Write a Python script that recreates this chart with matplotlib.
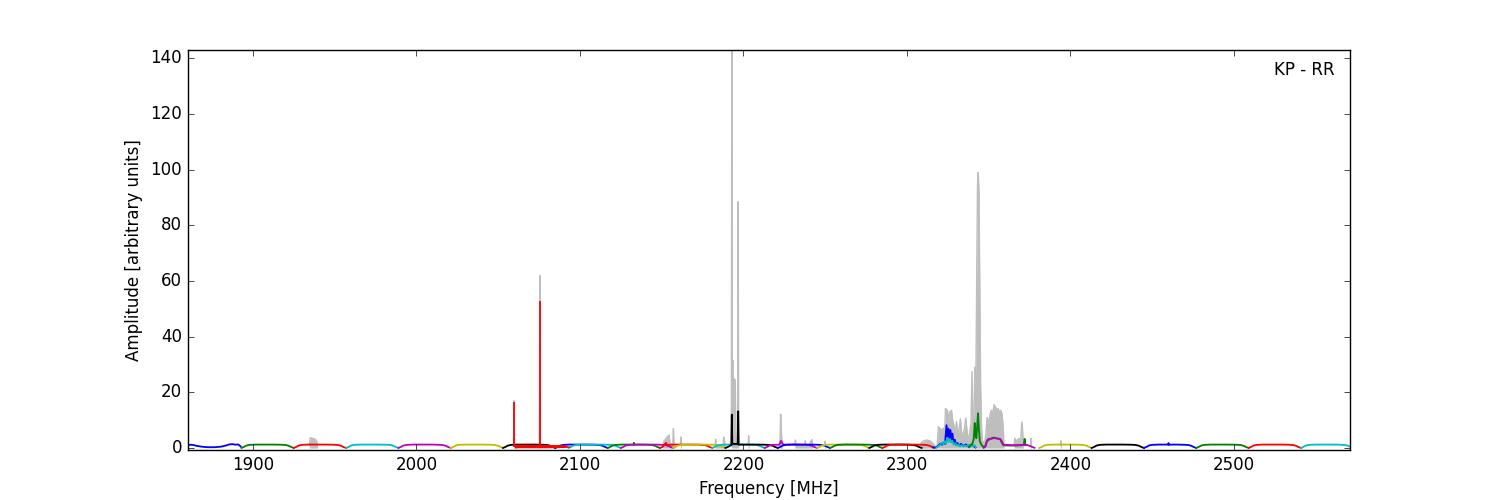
import numpy as np
import matplotlib
matplotlib.use("Agg")
import matplotlib.pyplot as plt

plt.style.use("classic")

# bandpass shape shared by the 32 MHz IFs (offset from lower edge [MHz], amplitude)
prof_off = [0, 1.5, 3, 5, 9, 14, 19, 24, 27, 29, 30.5, 32]
prof_amp = [0.05, 0.4, 0.9, 1.15, 1.25, 1.25, 1.25, 1.2, 1.1, 0.8, 0.35, 0.05]

# IF lower edges [MHz]
band_start = [1893, 1925, 1957, 1989, 2021, 2053, 2085, 2093, 2117, 2125, 2149,
              2157, 2181, 2189, 2213, 2221, 2245, 2253, 2277, 2285, 2381, 2413,
              2445, 2477, 2509, 2541]
band_color = ['g', 'r', 'c', 'm', 'y', 'k', 'b', 'c', 'g', 'm', 'r',
              'y', 'c', 'k', 'm', 'b', 'y', 'g', 'k', 'r', 'y', 'k',
              'b', 'g', 'r', 'c']

# narrow features inside some IFs (index into band_start)
feat_band = [8, 10, 13, 14, 22]
feat_freq = [[2132.8, 2133.0, 2133.2],
             [2151.5, 2152.6, 2153.6],
             [2192.6, 2192.9, 2193.2, 2196.5, 2196.8, 2197.1],
             [2222.0, 2223.0, 2223.5, 2224.5],
             [2459.8, 2460.0, 2460.2]]
feat_amp = [[1.2, 1.9, 1.2],
            [1.0, 1.9, 0.9],
            [1.0, 12.0, 1.5, 1.5, 13.2, 1.2],
            [1.2, 2.6, 2.0, 1.2],
            [1.2, 1.8, 1.2]]

# IFs with their own shape
cust_color = ['b', 'b', 'c', 'g', 'g', 'm']
cust_freq = [
    [1860.5, 1861.5, 1863.5, 1865.5, 1868.5, 1872.5, 1876.5, 1880.5, 1883.5, 1885.5,
     1887.5, 1889.5, 1891, 1892.5],
    [2316, 2318, 2319.5, 2320.5, 2321.5, 2322.5, 2323.3, 2324.2, 2324.8, 2325.4, 2326,
     2326.6, 2327.2, 2327.8, 2328.5, 2329.3, 2330, 2331, 2332, 2333, 2334.5, 2336,
     2337.5, 2339, 2340.5, 2342],
    [2318, 2319.5, 2320.5, 2321.5, 2322.3, 2323.2, 2324, 2324.8, 2325.5, 2326.3, 2327,
     2327.8, 2328.6, 2329.5, 2330.5, 2331.5, 2332.5, 2333.5, 2334.5, 2335.5, 2336.5,
     2337.5, 2338.5, 2339.5, 2340.5, 2341.5, 2342],
    [2338, 2339, 2340, 2340.8, 2341.5, 2342, 2342.5, 2343, 2343.5, 2344, 2344.6,
     2345.5, 2347],
    [2347, 2348, 2349, 2351, 2353, 2355, 2357, 2358, 2359, 2362, 2366, 2370, 2371.5,
     2372, 2372.5],
    [2347, 2348, 2349, 2350, 2352, 2353.5, 2355, 2357, 2358, 2359, 2362, 2366, 2370,
     2373, 2375, 2377, 2378],
]
cust_amp = [
    [1.0, 1.2, 1.1, 0.8, 0.5, 0.3, 0.3, 0.5, 0.9, 1.3, 1.4, 1.2, 1.3, 0.6],
    [0.2, 0.3, 1.0, 1.6, 1.2, 2.0, 1.5, 8.2, 4.0, 7.0, 3.5, 6.5, 3.0, 5.2, 2.0, 3.0,
     1.2, 1.8, 0.9, 1.5, 0.8, 1.3, 0.7, 1.1, 0.8, 0.2],
    [0.1, 0.8, 1.2, 2.0, 1.4, 2.5, 1.5, 3.6, 2.2, 3.2, 2.0, 2.6, 1.2, 1.8, 0.9, 1.3,
     0.6, 1.1, 0.5, 1.0, 0.6, 1.2, 0.5, 1.5, 0.7, 1.0, 0.3],
    [0.3, 1.0, 1.5, 3.0, 9.0, 5.0, 3.5, 8.0, 12.5, 7.0, 2.5, 1.2, 0.3],
    [0.3, 0.8, 2.5, 3.3, 3.8, 3.4, 3.2, 2.0, 1.0, 0.9, 0.9, 1.0, 1.2, 3.3, 1.0],
    [0.1, 0.5, 2.8, 3.3, 3.4, 3.6, 3.5, 3.3, 2.5, 1.2, 1.1, 1.0, 1.1, 1.2, 0.8, 0.3, 0.1],
]

# high resolution IF around 2060-2094 MHz: noise envelope and spikes
hires_freq = [2060, 2062, 2070, 2080, 2090, 2094]
hires_lo = [0.0, 0.1, 0.1, 0.1, 0.2, 0.3]
hires_hi = [1.2, 1.4, 1.3, 1.3, 1.2, 0.6]
hires_spike_freq = [2059.7, 2075.5]
hires_spike_amp = [16.5, 53.0]

# total power spectrum (grey), RFI features above the bandpass
gray_freq = [
    [1934.5, 1935, 1936, 1938, 1939, 1939.5],
    [2059.4, 2059.7, 2060.0],
    [2075.2, 2075.5, 2075.8],
    [2150.5, 2151.5, 2153, 2154.5, 2155.2, 2156.8, 2157.2, 2157.6],
    [2161.5, 2161.8, 2162.1],
    [2182.7, 2183.0, 2183.3, 2187.6, 2187.9, 2188.4, 2188.8],
    [2192.6, 2192.9, 2193.2, 2193.5, 2193.8, 2194.2, 2195.0, 2195.5, 2196.5, 2196.8, 2197.1],
    [2202.9, 2203.2, 2203.5],
    [2222.3, 2222.8, 2223.2, 2223.7],
    [2231.5, 2231.8, 2232.1, 2237.6, 2237.9, 2238.2, 2240.7, 2241, 2241.5, 2242, 2242.3],
    [2249.7, 2250, 2250.3],
    [2308, 2309.5, 2312, 2314.5, 2317],
    [2318.5, 2319.2, 2320.5, 2321.5, 2322.2, 2323, 2323.6, 2324.8, 2325.6, 2326.3, 2327.3,
     2328, 2328.9, 2329.5, 2330.3, 2331, 2331.5, 2332.7, 2333.5, 2334.3, 2335.2, 2336,
     2336.8, 2337.4, 2338.3, 2339.2, 2339.8, 2340.3, 2341, 2341.6, 2342.2, 2342.8, 2343.2,
     2343.6, 2344.1, 2344.6, 2345.1, 2345.6, 2346.2, 2347.5, 2348.3, 2349, 2350, 2350.8,
     2351.6, 2352.5, 2353.3, 2354.2, 2355, 2355.8, 2356.6, 2357.4, 2358.2, 2358.8, 2359.4],
    [2365.5, 2366, 2367, 2368.5, 2369.5, 2370.2, 2370.7, 2371.2],
    [2375.6, 2375.9, 2376.2],
    [2393.9, 2394.2, 2394.5],
]
gray_amp = [
    [1.0, 3.7, 3.6, 3.2, 2.6, 1.0],
    [1.0, 17.0, 1.0],
    [1.0, 62.0, 1.0],
    [1.0, 2.5, 3.8, 4.7, 1.5, 1.5, 7.0, 1.2],
    [1.0, 4.0, 1.0],
    [1.0, 3.2, 1.0, 1.0, 4.0, 3.0, 1.0],
    [1.0, 146.0, 20.0, 31.6, 15.0, 25.0, 24.4, 1.0, 1.0, 88.5, 1.0],
    [1.0, 4.4, 1.0],
    [1.0, 12.2, 6.0, 1.0],
    [1.0, 2.9, 1.0, 1.0, 2.6, 1.0, 1.0, 2.5, 1.5, 3.0, 1.0],
    [1.0, 2.5, 1.0],
    [1.0, 2.4, 2.9, 2.5, 1.0],
    [1.0, 7.7, 7.0, 6.0, 7.2, 4.0, 14.2, 13.5, 10.0, 13.0, 13.5, 10.0, 7.7, 5.0, 9.5,
     6.0, 5.0, 10.5, 5.0, 5.0, 7.0, 10.8, 6.0, 3.2, 5.0, 9.0, 27.5, 9.0, 12.0, 29.0,
     25.0, 70.0, 95.0, 99.0, 92.0, 55.0, 22.0, 8.0, 2.5, 2.0, 5.0, 11.0, 9.0, 12.0,
     13.6, 12.5, 15.6, 14.8, 13.2, 14.2, 12.8, 13.6, 12.3, 8.0, 1.0],
    [1.0, 3.5, 2.5, 3.5, 2.0, 9.3, 7.0, 1.0],
    [1.0, 3.5, 1.0],
    [1.0, 2.6, 1.0],
]

fig = plt.figure(figsize=(15, 5), dpi=100, facecolor="white")
ax = fig.add_subplot(111)

gray = "#bebebe"
for f, a in zip(gray_freq, gray_amp):
    ax.fill_between(f, 0, a, color=gray, lw=0, zorder=1)
    ax.plot(f, a, color=gray, lw=1.0, zorder=1)

lw = 1.3
for i, (f0, col) in enumerate(zip(band_start, band_color)):
    f = list(np.array(prof_off) + f0)
    a = list(prof_amp)
    for fb, ff, fa in zip(feat_band, feat_freq, feat_amp):
        if fb != i:
            continue
        keep = [(x, y) for x, y in zip(f, a) if x < ff[0] or x > ff[-1]]
        pts = sorted(keep + list(zip(ff, fa)))
        f = [p[0] for p in pts]
        a = [p[1] for p in pts]
    ax.plot(f, a, color=col, lw=lw, zorder=2)

for col, f, a in zip(cust_color, cust_freq, cust_amp):
    ax.plot(f, a, color=col, lw=lw, zorder=2)

ax.fill_between(hires_freq, hires_lo, hires_hi, color="r", lw=0, zorder=3)
ax.vlines(hires_spike_freq, 0.5, hires_spike_amp, color="r", lw=lw, zorder=3)

ax.set_xlim(1860, 2571)
ax.set_ylim(-0.7, 143)
ax.set_xlabel("Frequency [MHz]")
ax.set_ylabel("Amplitude [arbitrary units]")
ax.text(0.987, 0.95, "KP - RR", transform=ax.transAxes, ha="right", va="center",
        fontsize=12)

fig.savefig("out.png", dpi=100, facecolor="white")
